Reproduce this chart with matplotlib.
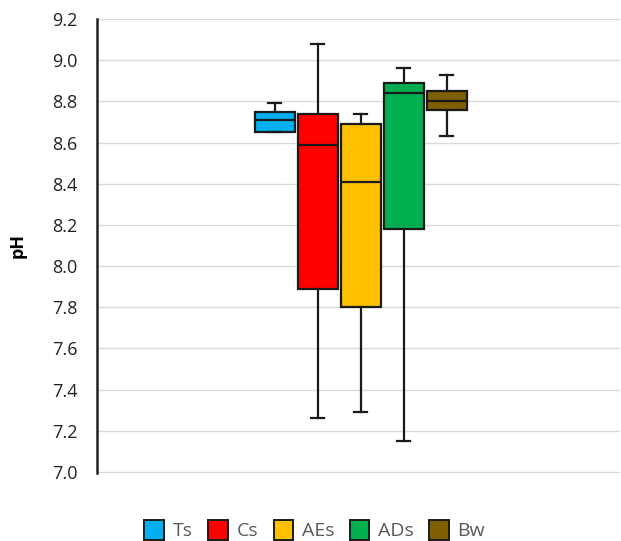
import matplotlib
matplotlib.use("Agg")
import matplotlib.pyplot as plt
from matplotlib.patches import Patch

# pH box-plot statistics
groups = ["Ts", "Cs", "AEs", "ADs", "Bw"]
whisker_low = [8.65, 7.26, 7.29, 7.15, 8.63]
q1 = [8.65, 7.89, 7.80, 8.18, 8.76]
median = [8.71, 8.59, 8.41, 8.84, 8.80]
q3 = [8.75, 8.74, 8.69, 8.89, 8.85]
whisker_high = [8.79, 9.08, 8.74, 8.96, 8.93]
colors = ["#00B0F0", "#FF0000", "#FFC000", "#00B050", "#7F6000"]
yticks = [7.0, 7.2, 7.4, 7.6, 7.8, 8.0, 8.2, 8.4, 8.6, 8.8, 9.0, 9.2]

plt.rcParams["font.family"] = ["Open Sans", "DejaVu Sans"]

fig = plt.figure(figsize=(6.21, 5.41), dpi=100)
ax = fig.add_axes([0.156, 0.126, 0.842, 0.839])

stats = []
for i, g in enumerate(groups):
    stats.append({
        "label": g,
        "whislo": whisker_low[i],
        "q1": q1[i],
        "med": median[i],
        "q3": q3[i],
        "whishi": whisker_high[i],
    })

positions = [4.14 + i for i in range(len(groups))]
bp = ax.bxp(stats, positions=positions, widths=0.92, patch_artist=True,
            showfliers=False,
            boxprops=dict(linewidth=1.6, edgecolor="#1a1a1a"),
            medianprops=dict(color="#1a1a1a", linewidth=1.6),
            whiskerprops=dict(color="#1a1a1a", linewidth=1.6),
            capprops=dict(color="#1a1a1a", linewidth=1.6),
            capwidths=0.3)
for box, c in zip(bp["boxes"], colors):
    box.set_facecolor(c)

ax.set_xlim(0, 12.16)
ax.set_ylim(6.996, 9.2)
ax.set_yticks(yticks)
ax.set_yticklabels([f"{v:.1f}" for v in yticks])
ax.set_xticks([])
ax.yaxis.grid(True, color="#d9d9d9", linewidth=1.0)
ax.set_axisbelow(True)
for s in ["top", "right", "bottom"]:
    ax.spines[s].set_visible(False)
ax.spines["left"].set_linewidth(1.8)
ax.spines["left"].set_color("#222222")
ax.tick_params(axis="y", length=0, pad=14, labelsize=13, labelcolor="#222222")
ax.set_ylabel("pH", fontsize=13, fontweight="bold", labelpad=18)

handles = [Patch(facecolor=c, edgecolor="#1a1a1a", linewidth=1.4) for c in colors]
fig.legend(handles, groups, loc="center", bbox_to_anchor=(0.507, 0.02),
           ncol=5, frameon=False, fontsize=14, labelcolor="#595959",
           handlelength=1.0, handleheight=1.2, handletextpad=0.45,
           columnspacing=0.8)

fig.savefig("out.png", dpi=100)
